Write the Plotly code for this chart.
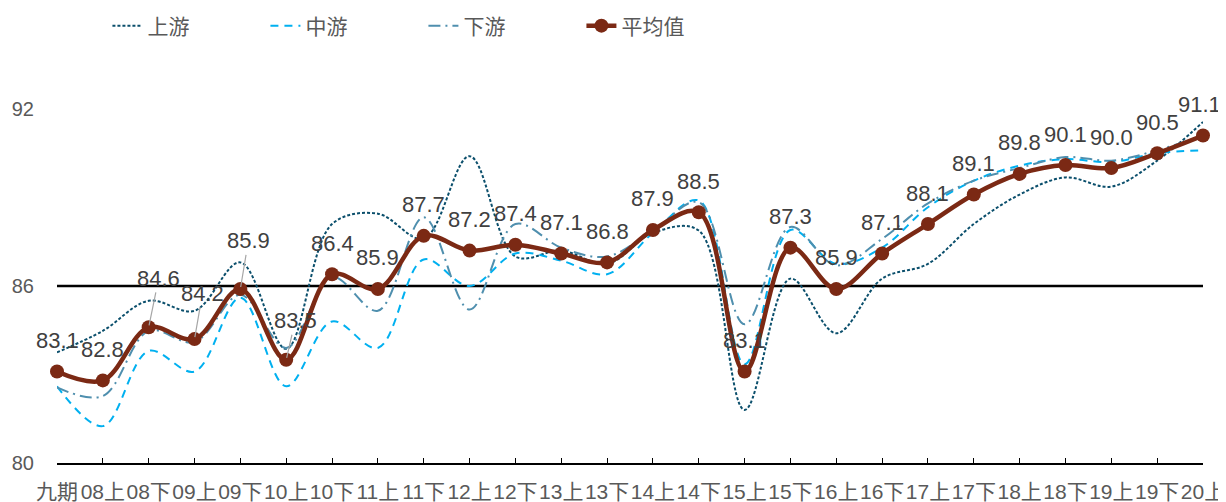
import plotly.graph_objects as go

categories = ["九期", "08上", "08下", "09上", "09下", "10上", "10下", "11上", "11下", "12上",
              "12下", "13上", "13下", "14上", "14下", "15上", "15下", "16上", "16下", "17上",
              "17下", "18上", "18下", "19上", "19下", "20上"]

upstream = [83.75, 84.48, 85.5, 85.16, 86.8, 83.87, 88.1, 88.45, 87.6, 90.4,
            87.0, 87.2, 86.75, 87.8, 87.88, 81.8, 86.25, 84.4, 86.25, 86.75,
            88.1, 89.1, 89.68, 89.37, 90.25, 91.56]
midstream = [82.6, 81.25, 83.8, 83.1, 85.6, 82.6, 84.8, 83.9, 86.9, 86.0,
             87.1, 86.86, 86.4, 87.8, 88.9, 83.35, 87.9, 86.75, 87.3, 88.67,
             89.57, 90.08, 90.3, 90.2, 90.5, 90.6]
downstream = [82.56, 82.27, 84.48, 84.1, 85.7, 83.9, 86.3, 85.16, 88.33, 85.2,
              88.1, 87.3, 87.0, 87.88, 88.84, 84.7, 88.0, 86.7, 87.6, 88.8,
              89.57, 90.0, 90.37, 90.25, 90.6, 91.1]
average = [83.1, 82.8, 84.6, 84.2, 85.9, 83.5, 86.4, 85.9, 87.7, 87.2,
           87.4, 87.1, 86.8, 87.9, 88.5, 83.1, 87.3, 85.9, 87.1, 88.1,
           89.1, 89.8, 90.1, 90.0, 90.5, 91.1]

ref_level = 86
y_ticks = [80, 86, 92]

FONT = "Liberation Sans, Arial, Noto Sans CJK SC, sans-serif"
GRAY = "#595959"

fig = go.Figure()
fig.add_trace(go.Scatter(x=categories, y=upstream, name="上游", mode="lines",
                         line=dict(color="#0B4F6C", width=2, dash="3px,2px", shape="spline", smoothing=1),
                         cliponaxis=False))
fig.add_trace(go.Scatter(x=categories, y=midstream, name="中游", mode="lines",
                         line=dict(color="#00B0F0", width=2, dash="8px,6px", shape="spline", smoothing=1),
                         cliponaxis=False))
fig.add_trace(go.Scatter(x=categories, y=downstream, name="下游", mode="lines",
                         line=dict(color="#4F8FAE", width=2, dash="12px,5px,2px,5px", shape="spline", smoothing=1),
                         cliponaxis=False))
fig.add_trace(go.Scatter(x=categories, y=average, name="平均值", mode="lines+markers",
                         line=dict(color="#7B2914", width=4.5, shape="spline", smoothing=1),
                         marker=dict(color="#7B2914", size=14),
                         cliponaxis=False))

fig.add_shape(type="line", xref="x", yref="y", x0=0, x1=len(categories) - 1,
              y0=ref_level, y1=ref_level, line=dict(color="black", width=2.5), layer="below")

leader = {2: (10, -49), 3: (8, -46), 4: (8, -48), 5: (9, -39)}
last = len(categories) - 1
for i, (c, v) in enumerate(zip(categories, average)):
    if i in leader:
        ax, ay = leader[i]
        fig.add_annotation(x=c, y=v, text=f"{v:.1f}", showarrow=True, ax=ax, ay=ay,
                           arrowhead=0, arrowwidth=1.2, arrowcolor="#A6A6A6", standoff=2,
                           font=dict(size=22, color="#404040", family=FONT))
    else:
        fig.add_annotation(x=c, y=v, text=f"{v:.1f}", showarrow=False, yshift=31,
                           xshift=(-4 if i == last else 0),
                           font=dict(size=22, color="#404040", family=FONT))

fig.update_layout(
    width=1226, height=502,
    margin=dict(l=49, r=31, t=101, b=47, autoexpand=False),
    plot_bgcolor="white", paper_bgcolor="white",
    font=dict(family=FONT, color=GRAY, size=20),
    showlegend=True,
    legend=dict(orientation="h", xref="paper", yref="paper", x=0.044, y=1.2345,
                xanchor="left", yanchor="middle", font=dict(size=21, color=GRAY, family=FONT),
                entrywidth=113, entrywidthmode="pixels", bgcolor="rgba(0,0,0,0)"),
    xaxis=dict(type="category", range=[0, len(categories) - 1], showline=True, linecolor="black",
               linewidth=1.5, ticks="inside", ticklen=5, tickcolor="black", tickwidth=1.2,
               showgrid=False, zeroline=False, tickfont=dict(size=21, color=GRAY),
               tickangle=0, ticklabelstandoff=9, automargin=False),
    yaxis=dict(range=[80, 92], tickvals=y_ticks, showgrid=False, zeroline=False, showline=False,
               tickfont=dict(size=20, color=GRAY), ticklabelstandoff=22, automargin=False),
)

fig.write_html("out.html")
